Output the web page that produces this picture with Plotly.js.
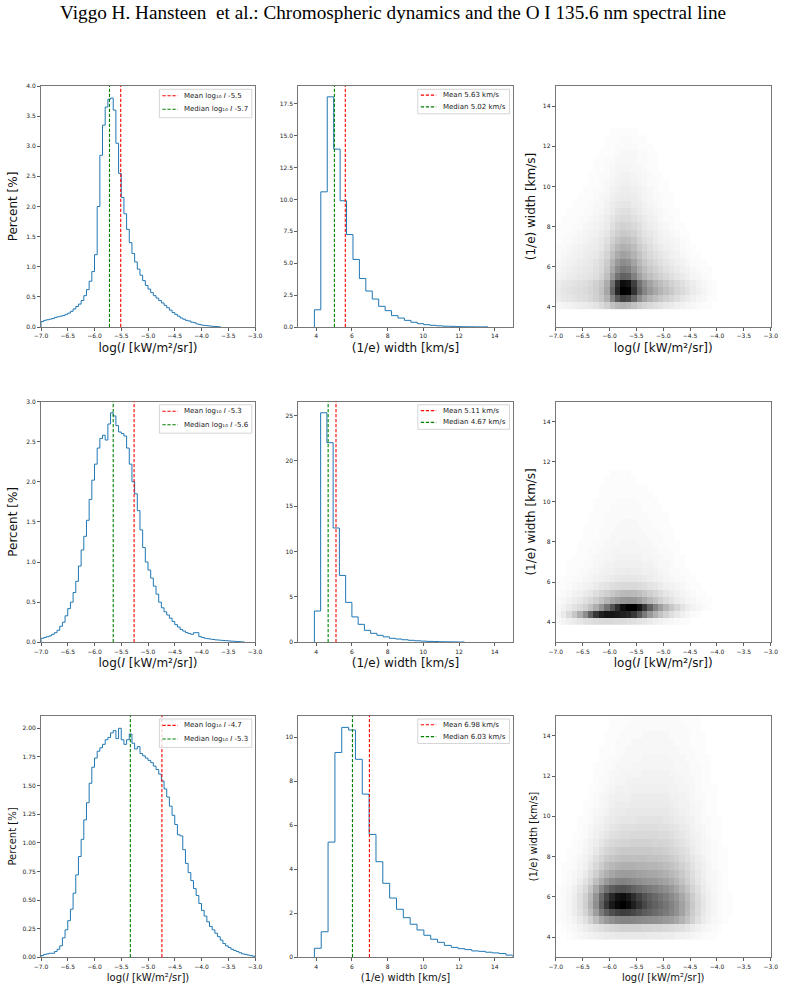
<!DOCTYPE html>
<html><head><meta charset="utf-8">
<script src="https://cdn.plot.ly/plotly-3.0.1.min.js"></script>
<style>html,body{margin:0;padding:0;background:#fff}#chart{width:785px;height:991px}</style>
</head><body><div id="chart"></div>
<script>
// ---------------- DATA ----------------
const figTitle = 'Viggo H. Hansteen\u00a0 et al.: Chromospheric dynamics and the O I 135.6 nm spectral line';

// Intensity histograms (column 1): bins of 0.05 starting at -7.0
const intensityBinStart = -7.0;
const intensityBinWidth = 0.05;
const pctIntensity1 = [0.09,0.11,0.12,0.13,0.14,0.16,0.17,0.18,0.19,0.21,0.23,0.26,0.30,0.34,0.38,0.44,0.52,0.62,0.76,0.92,
  1.2,2.0,2.85,3.35,3.65,3.78,3.8,3.6,3.05,2.55,2.15,1.88,1.62,1.4,1.22,1.08,0.96,0.86,0.77,0.69,
  0.63,0.57,0.52,0.48,0.44,0.40,0.36,0.32,0.28,0.24,0.21,0.18,0.15,0.13,0.11,0.10,0.08,0.07,0.05,0.04,
  0.03,0.025,0.02,0.015,0.01,0.008,0.005];
const pctIntensity2 = [0.05,0.06,0.07,0.08,0.10,0.12,0.15,0.20,0.25,0.33,0.42,0.50,0.62,0.76,0.95,1.15,1.32,1.52,1.78,2.02,
  2.22,2.42,2.54,2.58,2.52,2.72,2.86,2.82,2.70,2.62,2.60,2.57,2.42,2.22,2.00,1.85,1.64,1.40,1.18,1.00,
  0.90,0.80,0.70,0.60,0.50,0.43,0.38,0.34,0.30,0.26,0.22,0.19,0.16,0.14,0.12,0.11,0.10,0.12,0.12,0.07,
  0.06,0.05,0.045,0.04,0.035,0.03,0.028,0.025,0.022,0.02,0.017,0.014,0.012,0.01,0.007,0.005];
const pctIntensity3 = [0.015,0.025,0.03,0.035,0.035,0.05,0.07,0.10,0.17,0.24,0.32,0.42,0.56,0.72,0.88,1.03,1.20,1.35,1.52,1.66,
  1.74,1.80,1.83,1.86,1.90,1.92,1.96,1.98,1.91,2.00,1.90,1.86,1.90,1.95,1.87,1.82,1.84,1.78,1.76,1.74,
  1.72,1.70,1.67,1.64,1.60,1.54,1.47,1.40,1.32,1.24,1.16,1.07,1.06,0.94,0.82,0.74,0.67,0.60,0.54,0.47,
  0.41,0.36,0.31,0.27,0.24,0.21,0.18,0.15,0.12,0.10,0.085,0.07,0.06,0.05,0.04,0.03,0.025,0.02,0.015,0.01];

const meanLogI = [-5.51, -5.26, -4.74];
const medianLogI = [-5.72, -5.65, -5.33];
const meanLogILabel = ['-5.5', '-5.3', '-4.7'];
const medianLogILabel = ['-5.7', '-5.6', '-5.3'];

// Width histograms (column 2): bins starting at 3.9
const widthBinStart = 3.9;
const widthBinWidth = [0.36, 0.35, 0.383];
const pctWidth1 = [1.35,10.6,18.05,13.95,9.9,7.25,5.3,3.8,2.82,2.19,1.62,1.28,0.89,0.70,0.52,0.37,0.26,0.18,0.13,0.09,0.06,0.05,0.03,0.02,0.015,0.01,0.01];
const pctWidth2 = [3.45,25.3,22.0,12.6,7.37,4.4,2.8,1.98,1.32,0.99,0.77,0.6,0.44,0.36,0.28,0.22,0.17,0.13,0.1,0.08,0.06,0.05,0.04,0.03];
const pctWidth3 = [0.41,1.16,5.23,9.3,10.44,10.32,8.99,7.41,5.58,4.34,3.36,2.69,2.18,1.8,1.5,1.24,1.0,0.82,0.68,0.54,0.45,0.39,0.35,0.29,0.27,0.23,0.2,0.17,0.1];

const meanWidth = [5.63, 5.11, 6.98];
const medianWidth = [5.02, 4.67, 6.03];

// 2D histograms (column 3): darkness 0-100, columns of 0.1 in log I starting at -6.95,
// rows of width bins (same bins as column 2, centers)
const densX0 = -6.95, densDX = 0.1;
const densY0 = [4.08, 4.075, 4.0915];
const density1 = [
  [3,4,5,6,7,8,9,11,14,18,24,28,30,28,24,20,17,15,13,11,9,8,6,5,4,3,2,1,1,0,0],
  [7,9,10,11,12,13,15,18,22,30,48,65,75,72,60,45,36,30,26,22,19,16,13,10,8,6,4,3,1,1,0],
  [8,10,11,12,13,14,16,19,24,35,60,85,100,98,80,60,48,40,34,29,25,21,17,14,11,8,6,4,2,1,0],
  [7,9,10,11,12,13,15,18,22,32,55,80,95,92,75,55,44,36,30,26,22,18,15,12,9,7,5,3,2,1,0],
  [5,6,7,8,9,10,11,13,17,25,40,55,62,60,50,38,30,25,21,18,15,12,10,8,6,4,3,2,1,0,0],
  [4,5,6,7,8,9,10,12,15,22,34,46,52,50,42,32,26,21,18,15,12,10,8,6,5,3,2,1,1,0,0],
  [3,4,5,6,7,8,9,11,14,20,30,40,45,43,36,28,22,18,15,12,10,8,6,5,3,2,1,1,0,0,0],
  [2,3,4,5,6,7,8,9,12,17,25,33,37,35,30,24,19,15,12,10,8,6,5,3,2,1,1,0,0,0,0],
  [2,2,3,4,5,6,7,8,10,14,21,28,31,30,26,20,16,13,10,8,6,5,4,2,1,1,0,0,0,0,0],
  [1,2,2,3,4,5,6,7,9,12,18,23,26,25,22,17,13,11,8,6,5,4,3,2,1,0,0,0,0,0,0],
  [1,1,2,2,3,4,5,6,8,10,15,19,21,20,18,14,11,9,7,5,4,3,2,1,1,0,0,0,0,0,0],
  [1,1,1,2,2,3,4,5,6,8,12,16,18,17,15,12,9,7,6,4,3,2,1,1,0,0,0,0,0,0,0],
  [0,1,1,1,2,2,3,4,5,7,10,13,14,14,12,10,8,6,5,3,2,2,1,0,0,0,0,0,0,0,0],
  [0,0,1,1,1,2,2,3,4,6,8,11,12,12,10,8,6,5,4,3,2,1,1,0,0,0,0,0,0,0,0],
  [0,0,0,1,1,1,2,3,3,5,7,9,10,10,8,7,5,4,3,2,1,1,0,0,0,0,0,0,0,0,0],
  [0,0,0,0,1,1,1,2,3,4,6,7,8,8,7,6,4,3,2,2,1,1,0,0,0,0,0,0,0,0,0],
  [0,0,0,0,0,1,1,2,2,3,5,6,7,7,6,5,4,3,2,1,1,0,0,0,0,0,0,0,0,0,0],
  [0,0,0,0,0,0,1,1,2,3,4,5,6,6,5,4,3,2,2,1,1,0,0,0,0,0,0,0,0,0,0],
  [0,0,0,0,0,0,1,1,2,2,3,4,5,5,4,3,3,2,1,1,0,0,0,0,0,0,0,0,0,0,0],
  [0,0,0,0,0,0,0,1,1,2,3,4,4,4,3,3,2,1,1,0,0,0,0,0,0,0,0,0,0,0,0],
  [0,0,0,0,0,0,0,1,1,2,2,3,3,3,3,2,2,1,1,0,0,0,0,0,0,0,0,0,0,0,0],
  [0,0,0,0,0,0,0,0,1,1,1,2,3,3,3,2,2,1,1,0,0,0,0,0,0,0,0,0,0,0,0],
  [0,0,0,0,0,0,0,0,0,1,1,2,2,2,2,1,1,1,0,0,0,0,0,0,0,0,0,0,0,0,0],
  [0,0,0,0,0,0,0,0,0,1,1,1,2,2,1,1,1,0,0,0,0,0,0,0,0,0,0,0,0,0,0],
  [0,0,0,0,0,0,0,0,0,0,1,1,1,1,1,0,0,0,0,0,0,0,0,0,0,0,0,0,0,0,0]
];
const density2 = [
  [2,4,6,8,10,12,13,14,15,15,15,14,14,13,12,11,10,8,6,5,4,3,2,1,1,0,0,0,0,0,0],
  [4,8,14,22,32,45,62,78,88,92,92,90,88,85,78,66,52,40,31,24,18,13,9,6,4,2,1,0,0,0,0],
  [3,5,8,11,14,18,24,32,42,55,68,82,95,100,100,92,78,62,48,38,29,22,16,11,7,5,3,2,1,0,0],
  [2,3,5,7,9,12,15,19,24,29,34,38,41,42,41,38,33,28,23,18,14,11,8,6,4,3,2,1,1,0,0],
  [1,2,3,5,6,8,10,13,16,19,22,25,27,28,27,25,22,19,16,13,10,8,6,4,3,2,1,1,0,0,0],
  [1,1,2,3,4,5,6,8,10,11,13,14,15,15,15,14,13,11,10,8,6,5,4,3,2,1,1,0,0,0,0],
  [0,1,1,2,2,3,4,5,6,7,8,9,10,10,10,9,8,7,6,5,4,3,2,2,1,1,0,0,0,0,0],
  [0,0,1,1,2,2,3,4,5,6,6,7,7,8,7,7,6,6,5,4,3,2,2,1,1,0,0,0,0,0,0],
  [0,0,1,1,1,2,2,3,4,5,5,6,6,6,6,6,5,5,4,3,3,2,1,1,0,0,0,0,0,0,0],
  [0,0,0,1,1,1,2,3,3,4,4,5,5,5,5,5,4,4,3,3,2,2,1,1,0,0,0,0,0,0,0],
  [0,0,0,0,1,1,2,2,3,3,4,4,4,4,4,4,4,3,3,2,2,1,1,0,0,0,0,0,0,0,0],
  [0,0,0,0,1,1,1,2,2,3,3,3,4,4,4,3,3,3,2,2,1,1,1,0,0,0,0,0,0,0,0],
  [0,0,0,0,0,1,1,1,2,2,3,3,3,3,3,3,3,2,2,2,1,1,0,0,0,0,0,0,0,0,0],
  [0,0,0,0,0,1,1,1,2,2,2,3,3,3,3,3,2,2,2,1,1,1,0,0,0,0,0,0,0,0,0],
  [0,0,0,0,0,0,1,1,1,2,2,2,3,3,3,2,2,2,1,1,1,0,0,0,0,0,0,0,0,0,0],
  [0,0,0,0,0,0,1,1,1,2,2,2,2,2,2,2,2,1,1,1,1,0,0,0,0,0,0,0,0,0,0],
  [0,0,0,0,0,0,0,1,1,1,2,2,2,2,2,2,1,1,1,1,0,0,0,0,0,0,0,0,0,0,0],
  [0,0,0,0,0,0,0,1,1,1,1,2,2,2,2,1,1,1,1,0,0,0,0,0,0,0,0,0,0,0,0],
  [0,0,0,0,0,0,0,0,1,1,1,1,1,1,1,1,1,1,0,0,0,0,0,0,0,0,0,0,0,0,0],
  [0,0,0,0,0,0,0,0,1,1,1,1,1,1,1,1,1,0,0,0,0,0,0,0,0,0,0,0,0,0,0],
  [0,0,0,0,0,0,0,0,0,1,1,1,1,1,1,0,0,0,0,0,0,0,0,0,0,0,0,0,0,0,0],
  [0,0,0,0,0,0,0,0,0,0,1,1,1,1,0,0,0,0,0,0,0,0,0,0,0,0,0,0,0,0,0]
];
const density3 = [
  [0,0,1,2,3,4,5,6,7,8,8,9,9,9,9,9,9,8,8,8,7,7,6,6,5,4,3,2,1,1,0,0,0,0,0],
  [0,1,2,3,5,7,9,11,13,15,16,17,18,18,18,18,17,17,16,16,15,14,13,12,10,8,6,4,3,2,1,0,0,0,0],
  [1,2,3,5,8,12,18,26,34,40,44,47,48,48,47,46,45,44,43,42,40,38,35,30,24,18,12,8,5,3,2,1,0,0,0],
  [1,2,4,7,11,17,26,38,52,62,70,74,76,75,72,68,64,61,58,55,52,48,43,36,28,20,14,9,6,4,2,1,1,0,0],
  [1,2,4,7,12,19,30,44,62,78,90,97,100,96,88,80,72,66,62,58,54,49,44,37,29,21,15,10,6,4,2,1,1,0,0],
  [1,2,4,7,12,18,28,42,58,72,84,92,95,90,82,74,68,63,59,55,51,46,41,34,27,20,14,9,6,4,2,1,1,0,0],
  [1,2,3,6,10,15,23,34,46,56,63,67,68,66,62,58,55,52,50,47,44,40,35,29,23,17,12,8,5,3,2,1,0,0,0],
  [0,1,2,4,7,11,17,25,33,40,45,48,49,48,46,44,42,41,40,38,36,33,29,24,19,14,10,7,4,3,2,1,0,0,0],
  [0,1,2,3,5,8,13,19,26,31,35,38,39,39,38,37,36,35,34,33,31,28,25,21,17,13,9,6,4,3,2,1,0,0,0],
  [0,1,1,2,4,6,10,15,20,25,28,30,31,31,31,30,30,29,29,28,26,24,21,18,15,11,8,6,4,2,1,1,0,0,0],
  [0,0,1,2,3,5,8,12,16,20,22,24,25,25,25,25,25,24,24,23,22,20,18,15,12,10,7,5,3,2,1,1,0,0,0],
  [0,0,1,1,2,4,6,9,13,16,18,20,21,21,21,21,21,21,20,20,19,17,15,13,11,8,6,4,3,2,1,1,0,0,0],
  [0,0,0,1,2,3,5,7,10,13,15,16,17,17,18,18,18,18,17,17,16,15,13,11,9,7,5,4,3,2,1,0,0,0,0],
  [0,0,0,1,1,2,4,6,8,10,12,13,14,14,15,15,15,15,15,14,14,13,11,10,8,6,5,3,2,1,1,0,0,0,0],
  [0,0,0,0,1,2,3,5,6,8,10,11,12,12,12,13,13,13,13,12,12,11,10,8,7,5,4,3,2,1,1,0,0,0,0],
  [0,0,0,0,1,1,2,4,5,7,8,9,10,10,10,11,11,11,11,11,10,9,8,7,6,5,3,2,2,1,1,0,0,0,0],
  [0,0,0,0,0,1,2,3,4,5,7,8,8,9,9,9,9,9,9,9,9,8,7,6,5,4,3,2,1,1,0,0,0,0,0],
  [0,0,0,0,0,1,1,2,3,4,6,7,7,7,8,8,8,8,8,8,8,7,6,5,5,4,3,2,1,1,0,0,0,0,0],
  [0,0,0,0,0,0,1,2,3,4,5,6,6,6,7,7,7,7,7,7,7,6,6,5,4,3,2,2,1,1,0,0,0,0,0],
  [0,0,0,0,0,0,1,1,2,3,4,5,5,5,6,6,6,6,6,6,6,5,5,4,4,3,2,1,1,1,0,0,0,0,0],
  [0,0,0,0,0,0,0,1,2,2,3,4,4,5,5,5,5,5,5,5,5,5,4,4,3,3,2,1,1,0,0,0,0,0,0],
  [0,0,0,0,0,0,0,1,1,2,3,3,4,4,4,4,5,5,5,5,5,4,4,3,3,2,2,1,1,0,0,0,0,0,0],
  [0,0,0,0,0,0,0,1,1,2,2,3,3,3,4,4,4,4,4,4,4,4,3,3,3,2,2,1,1,0,0,0,0,0,0],
  [0,0,0,0,0,0,0,0,1,1,2,2,3,3,3,3,4,4,4,4,4,3,3,3,2,2,1,1,1,0,0,0,0,0,0],
  [0,0,0,0,0,0,0,0,1,1,1,2,2,3,3,3,3,3,3,3,3,3,3,2,2,2,1,1,0,0,0,0,0,0,0],
  [0,0,0,0,0,0,0,0,0,1,1,2,2,2,3,3,3,3,3,3,3,3,2,2,2,1,1,1,0,0,0,0,0,0,0],
  [0,0,0,0,0,0,0,0,0,1,1,1,2,2,2,2,3,3,3,3,3,2,2,2,2,1,1,1,0,0,0,0,0,0,0],
  [0,0,0,0,0,0,0,0,0,0,1,1,1,2,2,2,2,2,2,2,2,2,2,2,1,1,1,0,0,0,0,0,0,0,0],
  [0,0,0,0,0,0,0,0,0,0,1,1,1,1,2,2,2,2,2,2,2,2,2,1,1,1,1,0,0,0,0,0,0,0,0]
];

// Axis ranges / ticks
const pctIntensityRange = [[0, 4.0], [0, 3.0], [0, 2.11]];
const pctIntensityDtick = [0.5, 0.5, 0.25];
const pctIntensityFormat = ['.1f', '.1f', '.2f'];
const pctWidthRange = [[0, 18.9], [0, 26.54], [0, 10.97]];
const pctWidthDtick = [2.5, 5, 2];
const pctWidthFormat = ['.1f', 'd', 'd'];

// ---------------- LAYOUT HELPERS ----------------
const W = 785, H = 991;
const colPx = [[41, 255], [298.3, 512.7], [555.7, 770.7]];
const rowPx = [[86, 327], [401.5, 642.3], [715.7, 957.3]];
const F = 'DejaVu Sans';
const BLUE = '#1f77b4', RED = '#ff0000', GREEN = '#008000';
const titleSize = [12, 12, 10];
const yTitleStandoff = [[6, 0, 4], [6, 0, 4], [3, 0, 3]];
const xTitleStandoff = 5;

function n(r, c) { return r * 3 + c + 1; }
function sfx(k) { return k === 1 ? '' : String(k); }

function stepXY(start, width, vals) {
  const xs = [start], ys = [0];
  for (let i = 0; i <= vals.length; i++) {
    xs.push(+(start + i * width).toFixed(4));
    ys.push(i < vals.length ? vals[i] : 0);
  }
  return { x: xs, y: ys };
}

const traces = [];
const shapes = [];
const annotations = [];
const layout = {
  width: W, height: H,
  margin: { l: 0, r: 0, t: 0, b: 0 },
  paper_bgcolor: '#ffffff', plot_bgcolor: '#ffffff',
  showlegend: false,
  font: { family: F, color: '#222' },
  shapes: shapes, annotations: annotations
};

function axisBase(extra) {
  return Object.assign({
    showline: true, mirror: true, linecolor: '#777', linewidth: 1,
    ticks: 'outside', ticklen: 3, tickwidth: 0.8, tickcolor: '#333',
    showgrid: false, zeroline: false, fixedrange: true,
    tickfont: { family: F, size: 6, color: '#222' }
  }, extra);
}

function italicI(size) { return '<span style="font-style:italic;font-size:' + size + 'px">I</span>'; }
function xTitleLogI(size) { return 'log(' + italicI(size) + ' [kW/m\u00b2/sr])'; }
const widthTitle = '(1/e) width [km/s]';

function addLegend(r, c, items, boxW, boxH, rowY) {
  const k = n(r, c);
  const pw = colPx[c][1] - colPx[c][0];
  const ph = rowPx[r][1] - rowPx[r][0];
  const fx = p => p / pw, fy = p => 1 - p / ph;
  const right = pw - 3.2, top = 3.3, left = right - boxW;
  const xr = 'x' + sfx(k) + ' domain', yr = 'y' + sfx(k) + ' domain';
  shapes.push({ type: 'rect', xref: xr, yref: yr, x0: fx(left), x1: fx(right), y0: fy(top + boxH), y1: fy(top),
    line: { color: '#cccccc', width: 0.8 }, fillcolor: 'rgba(255,255,255,0.8)', layer: 'above' });
  items.forEach((it, j) => {
    const yy = fy(top + rowY[j]);
    shapes.push({ type: 'line', xref: xr, yref: yr, x0: fx(left + 3), x1: fx(left + 18.4), y0: yy, y1: yy,
      line: { color: it.color, width: 1.1, dash: '3.3px,1.7px' }, layer: 'above' });
    annotations.push({ xref: xr, yref: yr, x: fx(left + 23), y: yy, xanchor: 'left', yanchor: 'middle',
      text: it.text, showarrow: false, font: { family: F, size: 7, color: '#222' } });
  });
}

for (let r = 0; r < 3; r++) {
  for (let c = 0; c < 3; c++) {
    const k = n(r, c);
    const tf = { family: F, size: titleSize[r], color: '#111' };
    const xa = {
      domain: [colPx[c][0] / W, colPx[c][1] / W], anchor: 'y' + sfx(k)
    };
    const ya = {
      domain: [1 - rowPx[r][1] / H, 1 - rowPx[r][0] / H], anchor: 'x' + sfx(k)
    };
    if (c === 0) {
      Object.assign(xa, { range: [-7, -3], dtick: 0.5, tick0: -7, tickformat: '.1f',
        title: { text: xTitleLogI(titleSize[r]), font: tf, standoff: xTitleStandoff } });
      Object.assign(ya, { range: pctIntensityRange[r], dtick: pctIntensityDtick[r], tick0: 0, tickformat: pctIntensityFormat[r],
        title: { text: 'Percent [%]', font: tf, standoff: yTitleStandoff[r][0] } });
    } else if (c === 1) {
      Object.assign(xa, { range: [3, 15], dtick: 2, tick0: 0, tickformat: 'd',
        title: { text: widthTitle, font: tf, standoff: xTitleStandoff } });
      Object.assign(ya, { range: pctWidthRange[r], dtick: pctWidthDtick[r], tick0: 0, tickformat: pctWidthFormat[r] });
    } else {
      Object.assign(xa, { range: [-7, -3], dtick: 0.5, tick0: -7, tickformat: '.1f',
        title: { text: xTitleLogI(titleSize[r]), font: tf, standoff: xTitleStandoff } });
      Object.assign(ya, { range: [3, 15], dtick: 2, tick0: 0, tickformat: 'd',
        title: { text: widthTitle, font: tf, standoff: yTitleStandoff[r][2] } });
    }
    layout['xaxis' + sfx(k)] = axisBase(xa);
    layout['yaxis' + sfx(k)] = axisBase(ya);
  }
}

const pctIntensity = [pctIntensity1, pctIntensity2, pctIntensity3];
const pctWidth = [pctWidth1, pctWidth2, pctWidth3];
const density = [density1, density2, density3];

for (let r = 0; r < 3; r++) {
  // column 1
  let k = n(r, 0);
  let s = stepXY(intensityBinStart, intensityBinWidth, pctIntensity[r]);
  traces.push({ type: 'scatter', mode: 'lines', x: s.x, y: s.y, xaxis: 'x' + sfx(k), yaxis: 'y' + sfx(k),
    line: { color: BLUE, width: 1, shape: 'hv' }, hoverinfo: 'skip' });
  shapes.push({ type: 'line', xref: 'x' + sfx(k), yref: 'y' + sfx(k) + ' domain', x0: meanLogI[r], x1: meanLogI[r], y0: 0, y1: 1,
    line: { color: RED, width: 1.1, dash: '3.3px,1.7px' }, layer: 'above' });
  shapes.push({ type: 'line', xref: 'x' + sfx(k), yref: 'y' + sfx(k) + ' domain', x0: medianLogI[r], x1: medianLogI[r], y0: 0, y1: 1,
    line: { color: GREEN, width: 1.1, dash: '3.3px,1.7px' }, layer: 'above' });
  addLegend(r, 0, [
    { color: RED, text: 'Mean log\u2081\u2080 ' + italicI(7) + ' ' + meanLogILabel[r] },
    { color: GREEN, text: 'Median log\u2081\u2080 ' + italicI(7) + ' ' + medianLogILabel[r] }
  ], 92.4, 28.4, [6.4, 20]);

  // column 2
  k = n(r, 1);
  s = stepXY(widthBinStart, widthBinWidth[r], pctWidth[r]);
  traces.push({ type: 'scatter', mode: 'lines', x: s.x, y: s.y, xaxis: 'x' + sfx(k), yaxis: 'y' + sfx(k),
    line: { color: BLUE, width: 1, shape: 'hv' }, hoverinfo: 'skip' });
  shapes.push({ type: 'line', xref: 'x' + sfx(k), yref: 'y' + sfx(k) + ' domain', x0: meanWidth[r], x1: meanWidth[r], y0: 0, y1: 1,
    line: { color: RED, width: 1.1, dash: '3.3px,1.7px' }, layer: 'above' });
  shapes.push({ type: 'line', xref: 'x' + sfx(k), yref: 'y' + sfx(k) + ' domain', x0: medianWidth[r], x1: medianWidth[r], y0: 0, y1: 1,
    line: { color: GREEN, width: 1.1, dash: '3.3px,1.7px' }, layer: 'above' });
  addLegend(r, 1, [
    { color: RED, text: 'Mean ' + meanWidth[r].toFixed(2) + ' km/s' },
    { color: GREEN, text: 'Median ' + medianWidth[r].toFixed(2) + ' km/s' }
  ], 91.7, 24.5, [5.8, 17.6]);

  // column 3
  k = n(r, 2);
  traces.push({ type: 'heatmap', z: density[r], x0: densX0, dx: densDX, y0: densY0[r], dy: widthBinWidth[r],
    xaxis: 'x' + sfx(k), yaxis: 'y' + sfx(k), zmin: 0, zmax: 100, zsmooth: false,
    colorscale: [[0, '#ffffff'], [1, '#000000']], showscale: false, hoverinfo: 'skip' });
}

annotations.push({ xref: 'paper', yref: 'paper', x: 0.5, y: 1 - 13 / H, xanchor: 'center', yanchor: 'middle',
  text: figTitle, showarrow: false, font: { family: 'Liberation Serif', size: 19.2, color: '#000' } });

Plotly.newPlot('chart', traces, layout, { staticPlot: true, displayModeBar: false });
</script></body></html>
